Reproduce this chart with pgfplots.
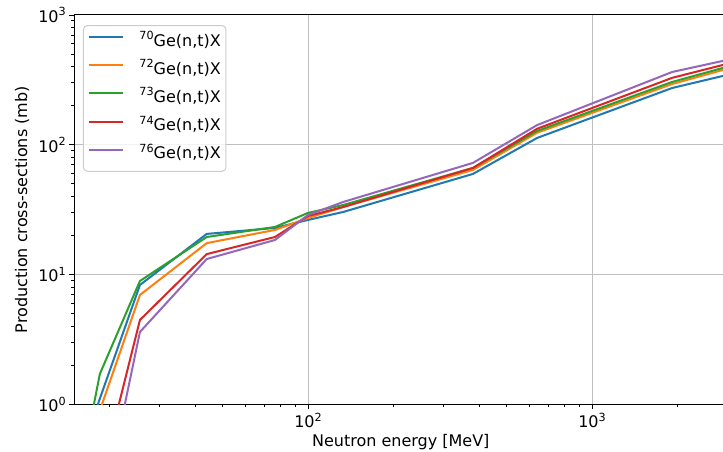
\documentclass[border=0pt]{standalone}
\usepackage{pgfplots}
\pgfplotsset{compat=1.18}
\usepackage{fontspec}
\setmainfont{DejaVu Sans}
\usetikzlibrary{calc}

% tab10 colours
\definecolor{c70}{HTML}{1F77B4}
\definecolor{c72}{HTML}{FF7F0E}
\definecolor{c73}{HTML}{2CA02C}
\definecolor{c74}{HTML}{D62728}
\definecolor{c76}{HTML}{9467BD}

\newcommand\lbl{\fontsize{16}{19}\selectfont}
\newcommand\sups[1]{\raisebox{6.5pt}{\fontsize{11.2}{13}\selectfont #1}}

% Production cross-sections (mb) versus neutron energy (MeV)
\pgfplotstableread{
E      Ge70   Ge72   Ge73   Ge74   Ge76
15     0.30   0.25   0.165  0.05   0.02
18.5   1.11   0.90   1.72   0.26   0.12
25.6   8.33   6.98   8.94   4.48   3.62
44     20.6   17.5   19.5   14.4   13.2
76.5   22.9   22.1   23.3   19.5   18.5
100    26.4   27.3   29.9   28.3   28.8
133    30.4   33.2   34.4   33.2   36.3
381    59.7   64.1   66.4   66.4   72.6
641    113    124    128    133    142
1915   274    294    305    328    364
3000   346    386    400    421    451
}\xsdata

\begin{document}
\begin{tikzpicture}
\begin{axis}[
  xmode=log, ymode=log,
  scale only axis, width=653.5pt, height=389.5pt,
  xmin=15, xmax=3000, ymin=1, ymax=1000,
  xtick={100,1000}, xticklabels={10\sups{2},10\sups{3}},
  ytick={1,10,100,1000},
  yticklabels={10\sups{0},10\sups{1},10\sups{2},10\sups{3}},
  minor xtick={20,30,40,50,60,70,80,90,200,300,400,500,600,700,800,900,2000,3000},
  minor ytick={2,3,4,5,6,7,8,9,20,30,40,50,60,70,80,90,200,300,400,500,600,700,800,900},
  tick align=outside, tick pos=left,
  major tick length=4.7pt, minor tick length=2.7pt,
  every tick/.style={black, line width=0.9pt},
  grid=major, major grid style={color=black!25, line width=1pt},
  axis line style={line width=1pt},
  tick label style={font=\lbl, black},
  xlabel={Neutron energy [MeV]},
  ylabel={Production cross-sections (mb)},
  every axis x label/.style={at={(axis description cs:0.5,-0.1091)}, anchor=base, font=\lbl},
  every axis y label/.style={at={(axis description cs:-0.0796,0.5)}, rotate=90, anchor=center, font=\lbl},
  legend style={at={(0.01377,0.9743)}, anchor=north west,
    draw=black!20, line width=1pt, rounded corners=4pt,
    fill=white, fill opacity=0.8, text opacity=1,
    inner xsep=5pt, inner ysep=8.5pt, row sep=12.2pt, column sep=15pt,
    font=\lbl,
    nodes={inner xsep=0pt, inner ysep=0pt, text height=12pt, text depth=4pt}},
  legend cell align=left,
  legend image code/.code={\draw[#1, line width=2pt] (0pt,5pt) -- (34pt,5pt);},
  every axis plot/.append style={line width=2pt, line join=round, mark=none},
]
\addplot[c70] table[x=E, y=Ge70] {\xsdata};
\addlegendentry{\sups{70}Ge(n,t)X}
\addplot[c72] table[x=E, y=Ge72] {\xsdata};
\addlegendentry{\sups{72}Ge(n,t)X}
\addplot[c73] table[x=E, y=Ge73] {\xsdata};
\addlegendentry{\sups{73}Ge(n,t)X}
\addplot[c74] table[x=E, y=Ge74] {\xsdata};
\addlegendentry{\sups{74}Ge(n,t)X}
\addplot[c76] table[x=E, y=Ge76] {\xsdata};
\addlegendentry{\sups{76}Ge(n,t)X}
\end{axis}
\pgfresetboundingbox
\path[use as bounding box] ($(current axis.south west)+(-74pt,-47.5pt)$) rectangle ($(current axis.north east)+(-4.5pt,15pt)$);
\end{tikzpicture}
\end{document}
